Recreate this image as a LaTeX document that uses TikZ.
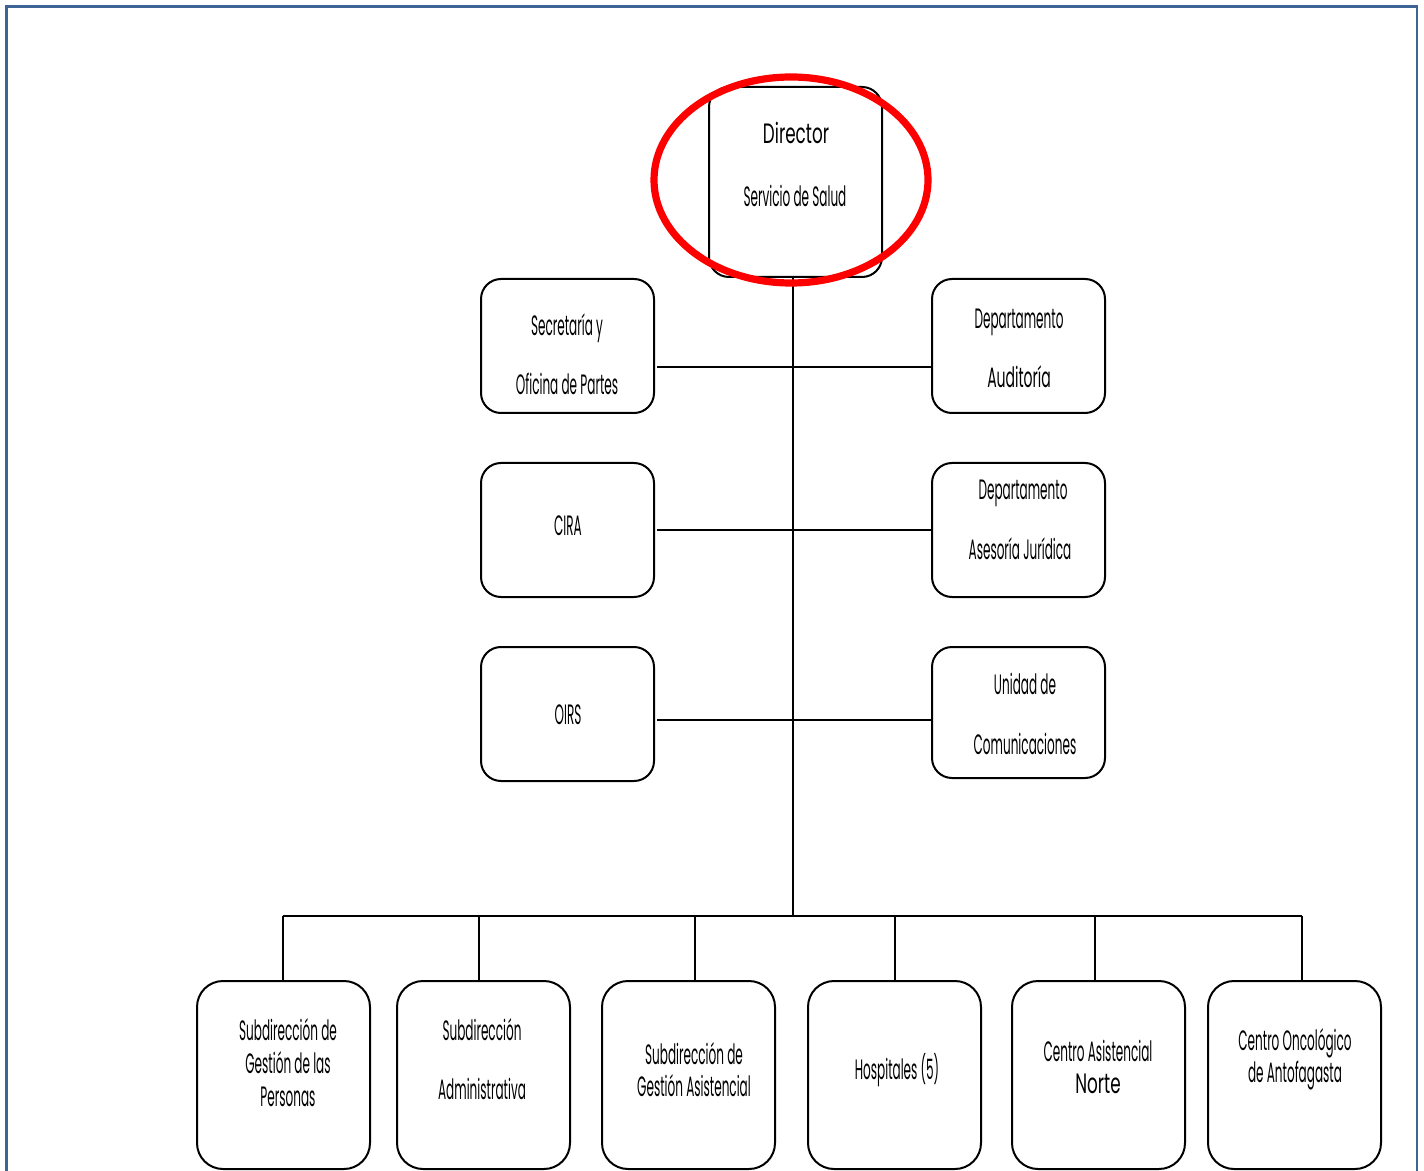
\documentclass[tikz,border=0pt]{standalone}
\usepackage{fontspec}
\newfontfamily\gth[FakeStretch=0.43]{Poppins}
\newfontfamily\gthm[FakeStretch=0.5]{Poppins}
\newfontfamily\gthw[FakeStretch=0.6]{Poppins}
\usetikzlibrary{calc}
\definecolor{framecol}{RGB}{60,100,150}
\begin{document}
\begin{tikzpicture}[x=0.5pt,y=-0.5pt,
  box/.style={draw=black,line width=1pt,rounded corners=10pt,minimum width=86.5pt,inner sep=0pt,outer sep=0pt,fill=white},
  bbox/.style={box,rounded corners=13pt,minimum height=94pt},
  mbox/.style={box,minimum height=67pt},
  conn/.style={draw=black,line width=1pt},
  txt/.style={anchor=base,inner sep=0pt,font=\gth\fontsize{14}{16}\selectfont},
  txtm/.style={anchor=base,inner sep=0pt,font=\gthm\fontsize{14}{16}\selectfont},
  txtw/.style={anchor=base,inner sep=0pt,font=\gthw\fontsize{14}{16}\selectfont}]
\useasboundingbox (0,0) rectangle (1424,1171);
% frame
\draw[framecol,line width=1.3pt] (6.5,1175) -- (6.5,6.5) -- (1417,6.5) -- (1417,1175);

% boxes
\node[box,minimum height=95pt] (dir) at (795.5,182) {};
\node[mbox] (sec) at (567.5,346) {};
\node[mbox] (cira) at (567.5,530) {};
\node[mbox] (oirs) at (567.5,714) {};
\node[mbox] (aud) at (1018.5,346) {};
\node[mbox] (jur) at (1018.5,530) {};
\node[box,minimum height=65.5pt] (com) at (1018.5,712.5) {};
\node[bbox] (b1) at (283.5,1075) {};
\node[bbox] (b2) at (483.5,1075) {};
\node[bbox] (b3) at (688.5,1075) {};
\node[bbox] (b4) at (894.5,1075) {};
\node[bbox] (b5) at (1098.5,1075) {};
\node[bbox] (b6) at (1294.5,1075) {};

% connectors
\coordinate (sp) at (793,916);
\draw[conn] (dir.south -| sp) -- (sp);
\coordinate (h1) at (657,367);
\coordinate (h2) at (657,530);
\coordinate (h3) at (657,720);
\draw[conn] (h1) -- (h1 -| aud.west);
\draw[conn] (h2) -- (h2 -| jur.west);
\draw[conn] (h3) -- (h3 -| com.west);
\coordinate (d1) at (283,916);
\coordinate (d2) at (479,916);
\coordinate (d3) at (695,916);
\coordinate (d4) at (895,916);
\coordinate (d5) at (1095,916);
\coordinate (d6) at (1302,916);
\draw[conn] (d1) -- (d6);
\foreach \i in {1,...,6}{\draw[conn] (d\i) -- (d\i |- b\i.north);}

% texts
\node[txtw] (t-dir1) at (796,144) {Director};
\node[txt] (t-dir2) at (795,207) {Servicio de Salud};
\node[txt] (t-sec1) at (567,336) {Secretaría y};
\node[txt] (t-sec2) at (567,395) {Oficina de Partes};
\node[txt] (t-cira) at (568,535) {CIRA};
\node[txt] (t-oirs) at (568,724) {OIRS};
\node[txt] (t-aud1) at (1019,329) {Departamento};
\node[txtm] (t-aud2) at (1019,388) {Auditoría};
\node[txt] (t-jur1) at (1023,499) {Departamento};
\node[txt] (t-jur2) at (1020,559) {Asesoría Jurídica};
\node[txt] (t-com1) at (1025,694) {Unidad de};
\node[txt] (t-com2) at (1025,754) {Comunicaciones};
\node[txt] (t-b1a) at (288,1040) {Subdirección de};
\node[txt] (t-b1b) at (288,1073) {Gestión de las};
\node[txt] (t-b1c) at (288,1106) {Personas};
\node[txt] (t-b2a) at (482,1040) {Subdirección};
\node[txt] (t-b2b) at (482,1099) {Administrativa};
\node[txt] (t-b3a) at (694,1064) {Subdirección de};
\node[txt] (t-b3b) at (694,1096) {Gestión Asistencial};
\node[txt] (t-b4) at (897,1079) {Hospitales (5)};
\node[txt] (t-b5a) at (1098,1061) {Centro Asistencial};
\node[txtw] (t-b5b) at (1098,1093) {Norte};
\node[txt] (t-b6a) at (1295,1050) {Centro Oncológico};
\node[txt] (t-b6b) at (1295,1082) {de Antofagasta};

% highlight ellipse
\draw[red,line width=3.6pt] (791,180) ellipse [x radius=137, y radius=103];
\end{tikzpicture}
\end{document}
